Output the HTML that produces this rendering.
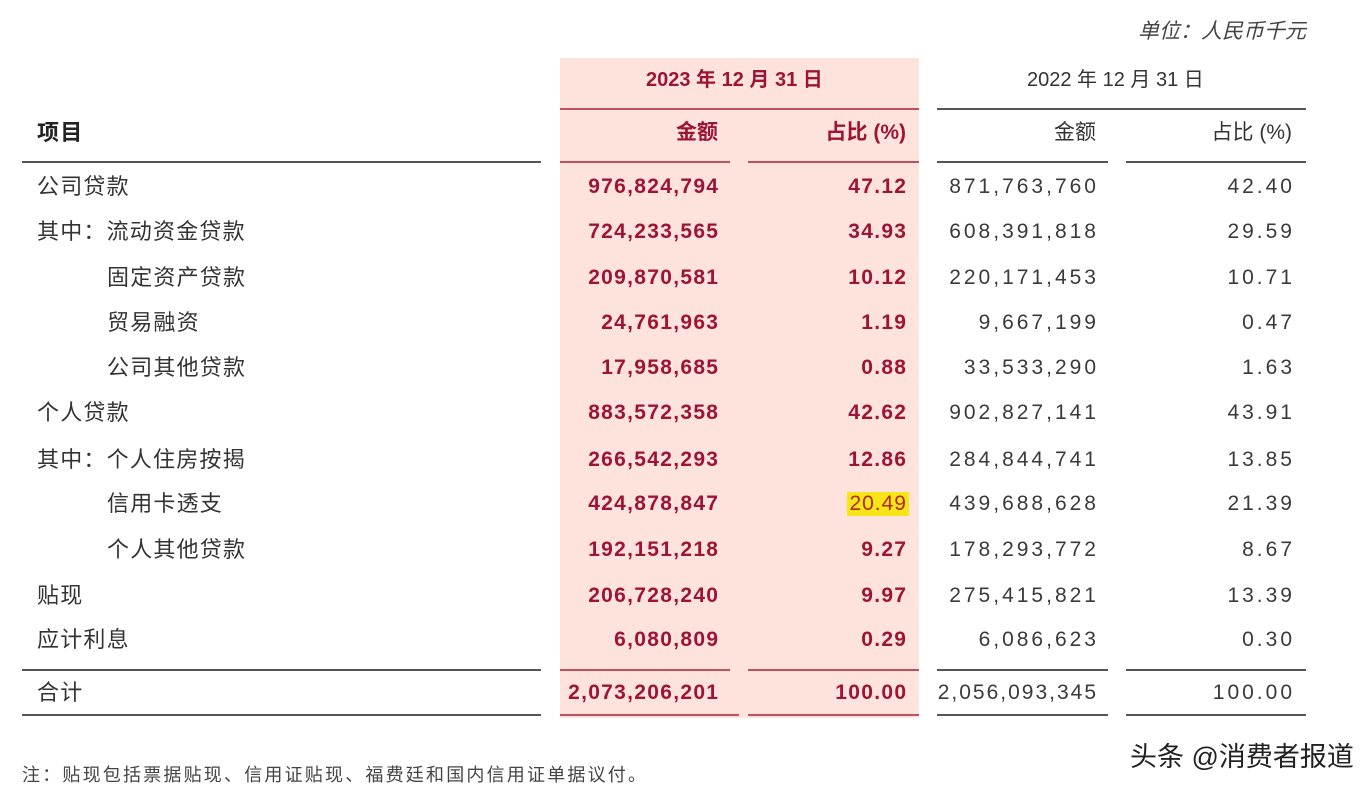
<!DOCTYPE html>
<html><head><meta charset="utf-8"><style>
body{margin:0;width:1370px;height:798px;background:#fff;position:relative;overflow:hidden;font-family:"Liberation Sans","Noto Sans CJK SC",sans-serif;}
.t{position:absolute;font-size:20px;line-height:24px;white-space:nowrap;color:#333;}
.c{font-size:22px;letter-spacing:1.2px;}
.n{font-size:21px;letter-spacing:3px;margin-right:-3px;color:#3a3a3a;}
.r{color:#9c1535;font-weight:bold;font-size:21px;letter-spacing:1.3px;margin-right:-1.3px;}
.l{position:absolute;height:2px;background:#555;}
.lr{position:absolute;height:2px;background:#c0525e;}
.panel{position:absolute;left:560px;top:58px;width:359px;height:660px;background:#fde3dc;}
</style></head><body>
<div class="panel"></div>
<div class="t" style="right:64px;top:20px;font-style:italic;color:#444;font-size:21px">单位：人民币千元</div>
<div class="t" style="left:646px;top:68px;color:#9c1535;font-weight:bold;">2023 年 12 月 31 日</div>
<div class="t" style="left:1027px;top:68px">2022 年 12 月 31 日</div>
<div class="lr" style="left:560px;top:108px;width:359px"></div>
<div class="l" style="left:937px;top:108px;width:369px"></div>
<div class="t c" style="left:37px;top:121px;font-weight:bold;color:#222">项目</div>
<div class="t" style="right:652px;top:121px;color:#9c1535;font-weight:bold;font-size:21px">金额</div>
<div class="t" style="right:464px;top:121px;color:#9c1535;font-weight:bold;font-size:21px">占比 (%)</div>
<div class="t" style="right:274px;top:121px;font-size:21px">金额</div>
<div class="t" style="right:78px;top:121px;font-size:21px">占比 (%)</div>
<div class="l" style="left:22px;top:161px;width:519px"></div>
<div class="lr" style="left:560px;top:161px;width:170px"></div>
<div class="lr" style="left:748px;top:161px;width:171px"></div>
<div class="l" style="left:937px;top:161px;width:171px"></div>
<div class="l" style="left:1126px;top:161px;width:180px"></div>

<div class="t c" style="left:37px;top:175px">公司贷款</div><div class="t r" style="right:652px;top:175px">976,824,794</div><div class="t r" style="right:464px;top:175px">47.12</div><div class="t n" style="right:274px;top:175px">871,763,760</div><div class="t n" style="right:78px;top:175px">42.40</div>
<div class="t c" style="left:37px;top:220px">其中：流动资金贷款</div><div class="t r" style="right:652px;top:220px">724,233,565</div><div class="t r" style="right:464px;top:220px">34.93</div><div class="t n" style="right:274px;top:220px">608,391,818</div><div class="t n" style="right:78px;top:220px">29.59</div>
<div class="t c" style="left:107px;top:266px">固定资产贷款</div><div class="t r" style="right:652px;top:266px">209,870,581</div><div class="t r" style="right:464px;top:266px">10.12</div><div class="t n" style="right:274px;top:266px">220,171,453</div><div class="t n" style="right:78px;top:266px">10.71</div>
<div class="t c" style="left:107px;top:311px">贸易融资</div><div class="t r" style="right:652px;top:311px">24,761,963</div><div class="t r" style="right:464px;top:311px">1.19</div><div class="t n" style="right:274px;top:311px">9,667,199</div><div class="t n" style="right:78px;top:311px">0.47</div>
<div class="t c" style="left:107px;top:356px">公司其他贷款</div><div class="t r" style="right:652px;top:356px">17,958,685</div><div class="t r" style="right:464px;top:356px">0.88</div><div class="t n" style="right:274px;top:356px">33,533,290</div><div class="t n" style="right:78px;top:356px">1.63</div>
<div class="t c" style="left:37px;top:401px">个人贷款</div><div class="t r" style="right:652px;top:401px">883,572,358</div><div class="t r" style="right:464px;top:401px">42.62</div><div class="t n" style="right:274px;top:401px">902,827,141</div><div class="t n" style="right:78px;top:401px">43.91</div>
<div class="t c" style="left:37px;top:448px">其中：个人住房按揭</div><div class="t r" style="right:652px;top:448px">266,542,293</div><div class="t r" style="right:464px;top:448px">12.86</div><div class="t n" style="right:274px;top:448px">284,844,741</div><div class="t n" style="right:78px;top:448px">13.85</div>
<div class="t c" style="left:107px;top:492px">信用卡透支</div><div class="t r" style="right:652px;top:492px">424,878,847</div><div class="t" style="right:461px;top:492px;background:#f7e51a;color:#b02a10;padding:0 2px;font-size:21px;letter-spacing:1px">20.49</div><div class="t n" style="right:274px;top:492px">439,688,628</div><div class="t n" style="right:78px;top:492px">21.39</div>
<div class="t c" style="left:107px;top:538px">个人其他贷款</div><div class="t r" style="right:652px;top:538px">192,151,218</div><div class="t r" style="right:464px;top:538px">9.27</div><div class="t n" style="right:274px;top:538px">178,293,772</div><div class="t n" style="right:78px;top:538px">8.67</div>
<div class="t c" style="left:37px;top:584px">贴现</div><div class="t r" style="right:652px;top:584px">206,728,240</div><div class="t r" style="right:464px;top:584px">9.97</div><div class="t n" style="right:274px;top:584px">275,415,821</div><div class="t n" style="right:78px;top:584px">13.39</div>
<div class="t c" style="left:37px;top:628px">应计利息</div><div class="t r" style="right:652px;top:628px">6,080,809</div><div class="t r" style="right:464px;top:628px">0.29</div><div class="t n" style="right:274px;top:628px">6,086,623</div><div class="t n" style="right:78px;top:628px">0.30</div>

<div class="l" style="left:22px;top:669px;width:519px"></div>
<div class="lr" style="left:560px;top:669px;width:170px"></div>
<div class="lr" style="left:748px;top:669px;width:171px"></div>
<div class="l" style="left:937px;top:669px;width:171px"></div>
<div class="l" style="left:1126px;top:669px;width:180px"></div>
<div class="t c" style="left:37px;top:681px">合计</div><div class="t r" style="right:652px;top:681px">2,073,206,201</div><div class="t r" style="right:464px;top:681px">100.00</div><div class="t n" style="right:274px;top:681px;letter-spacing:2px;margin-right:-2px">2,056,093,345</div><div class="t n" style="right:78px;top:681px">100.00</div>
<div class="l" style="left:22px;top:714px;width:519px"></div>
<div class="lr" style="left:560px;top:714px;width:179px"></div>
<div class="lr" style="left:748px;top:714px;width:171px"></div>
<div class="l" style="left:937px;top:714px;width:171px"></div>
<div class="l" style="left:1126px;top:714px;width:180px"></div>

<div class="t" style="left:22px;top:763px;font-size:18px;letter-spacing:2.2px;color:#444">注：贴现包括票据贴现、信用证贴现、福费廷和国内信用证单据议付。</div>
<div class="t" style="left:1130px;top:740px;font-size:27px;line-height:34px;color:#222">头条 @消费者报道</div>
</body></html>
